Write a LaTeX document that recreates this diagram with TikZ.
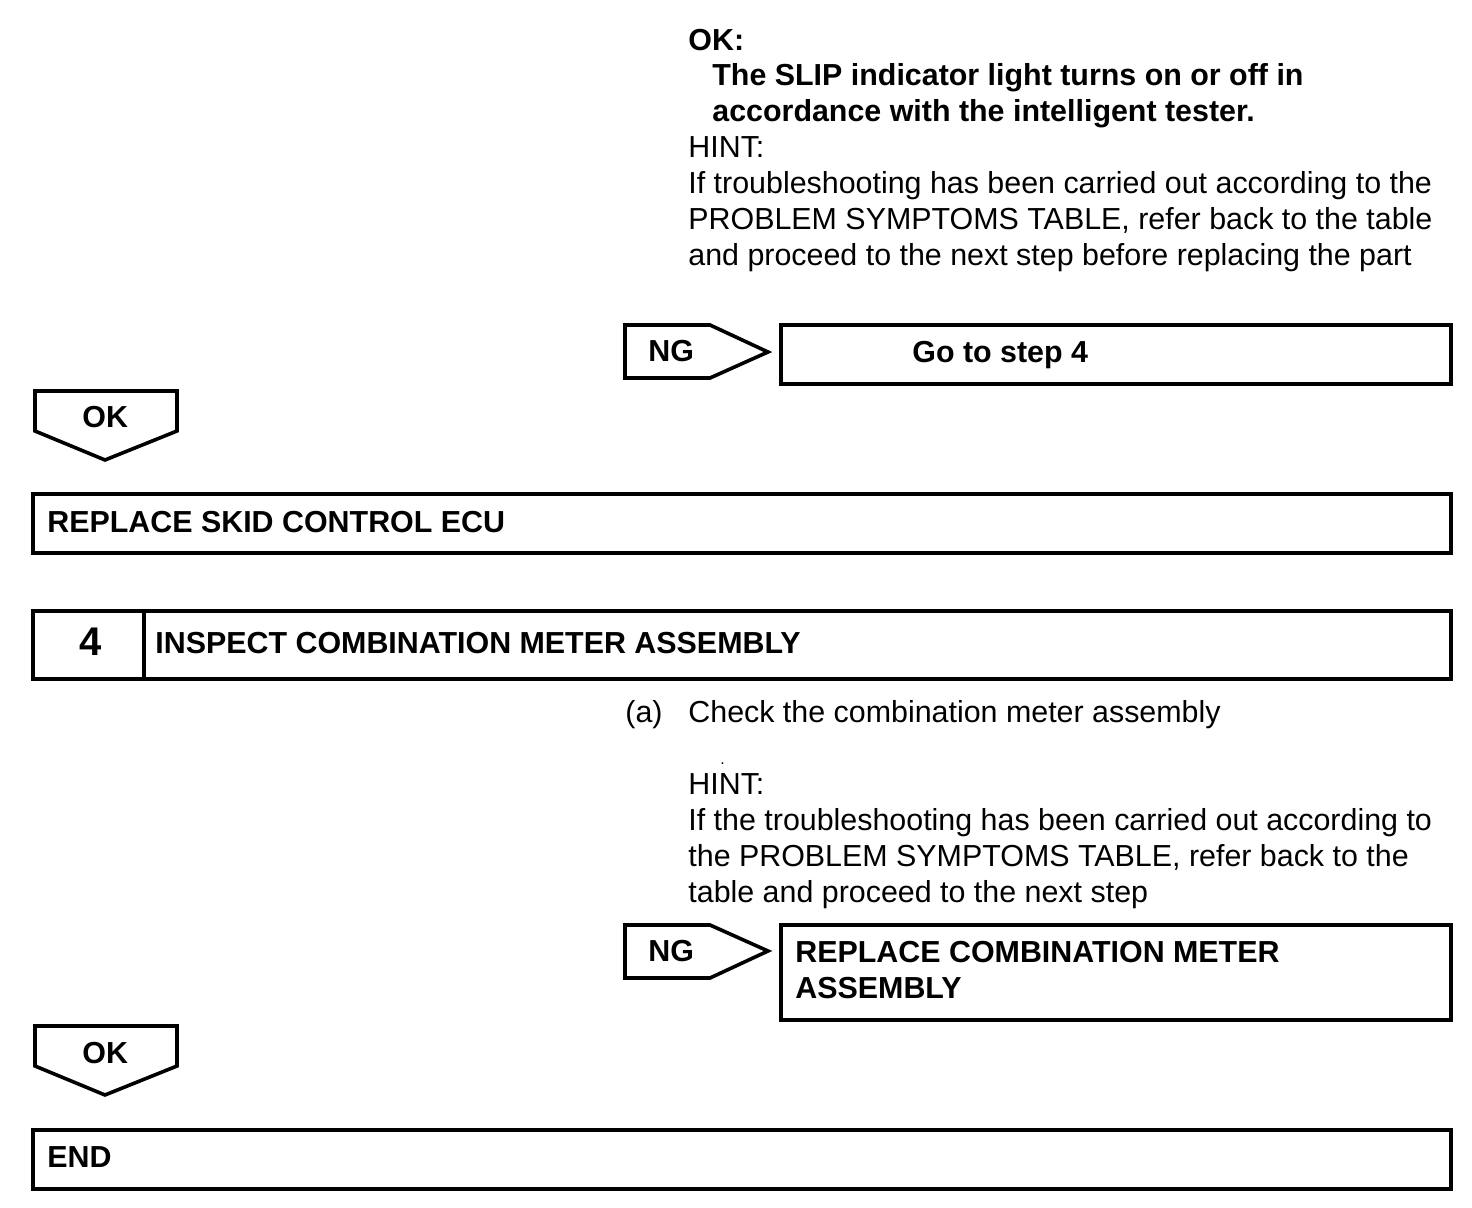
\documentclass[tikz,border=0pt]{standalone}
\usepackage{fontspec}
\setmainfont{Liberation Sans}
\usetikzlibrary{positioning}
\tikzset{
    % Text styles (multi-line nodes sit on the baseline of their last line)
    body/.style={anchor=base west, inner sep=0pt, align=left,
                 font=\fontsize{15.2}{18}\selectfont},
    head/.style={body, font=\fontsize{15.2}{18}\selectfont\bfseries},
    % Box styles
    frame/.style={draw, line width=1.8pt, line join=miter},
}

\begin{document}
\begin{tikzpicture}[x=0.5pt, y=-0.5pt]
    \useasboundingbox (0,0) rectangle (1472,1208);

    % Result of step 3
    \node[head] (okhead) at (688,51) {OK:};
    \node[head] (okbody) at (712,122) {The SLIP indicator light turns on or off in\\
        accordance with the intelligent tester.};
    \node[body] (hint1) at (688,266) {HINT:\\
        If troubleshooting has been carried out according to the\\
        PROBLEM SYMPTOMS TABLE, refer back to the table\\
        and proceed to the next step before replacing the part};

    % NG branch 1
    \draw[frame] (625,325) -- (710,325) -- (768,352) -- (710,378) -- (625,378) -- cycle;
    \node[head] (ng1) at (648,362) {NG};
    \draw[frame] (781,325) rectangle (1451,384);
    \node[head] (goto) at (912,363) {Go to step 4};

    % OK branch 1
    \draw[frame] (35,391) -- (177,391) -- (177,431) -- (105,460) -- (35,431) -- cycle;
    \node[head] (ok1) at (82,428) {OK};
    \draw[frame] (33,494) rectangle (1451,553);
    \node[head] (ecu) at (47,532) {REPLACE SKID CONTROL ECU};

    % Step 4
    \draw[frame] (33,611) rectangle (1451,679);
    \draw[frame] (144,611) -- (144,679);
    \node[head, font=\fontsize{20}{24}\selectfont\bfseries] (num) at (79,655) {4};
    \node[head] (inspect) at (155,653) {INSPECT COMBINATION METER ASSEMBLY};
    \node[body] (stepa) at (625,722) {(a)};
    \node[body] (check) at (688,722) {Check the combination meter assembly};
    \node[body, font=\footnotesize] (dot) at (720,764) {.};
    \node[body] (hint2) at (688,902) {HINT:\\
        If the troubleshooting has been carried out according to\\
        the PROBLEM SYMPTOMS TABLE, refer back to the\\
        table and proceed to the next step};

    % NG branch 2
    \draw[frame] (625,925) -- (710,925) -- (768,951) -- (710,978) -- (625,978) -- cycle;
    \node[head] (ng2) at (648,961) {NG};
    \draw[frame] (781,925) rectangle (1451,1020);
    \node[head] (meter) at (795,998) {REPLACE COMBINATION METER\\ASSEMBLY};

    % OK branch 2
    \draw[frame] (35,1026) -- (177,1026) -- (177,1066) -- (105,1095) -- (35,1066) -- cycle;
    \node[head] (ok2) at (82,1063) {OK};
    \draw[frame] (33,1130) rectangle (1451,1189);
    \node[head] (end) at (47,1167) {END};
\end{tikzpicture}
\end{document}
